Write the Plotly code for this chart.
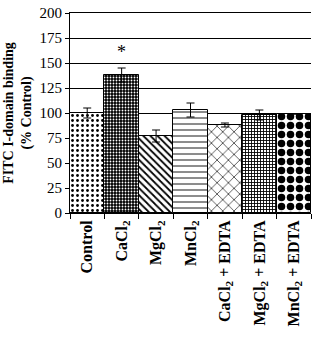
import plotly.graph_objects as go

categories = ["Control", "CaCl<sub>2</sub>", "MgCl<sub>2</sub>", "MnCl<sub>2</sub>",
              "CaCl<sub>2</sub> + EDTA", "MgCl<sub>2</sub> + EDTA", "MnCl<sub>2</sub> + EDTA"]
values = [100, 138, 77, 103, 88, 98, 99]
errors = [5, 7, 6, 7, 2, 5, 0]
y_ticks = [0, 25, 50, 75, 100, 125, 150, 175, 200]

shapes = [".", ".", "\\", "-", "x", "+", "."]
bgcols = ["white", "black", "white", "white", "white", "white", "white"]
fgcols = ["black", "white", "black", "black", "black", "black", "black"]
sizes = [5, 3, 5, 6, 8, 3, 9]
solid = [0.25, 0.3, 0.35, 0.15, 0.15, 0.5, 0.55]

fig = go.Figure()
fig.add_trace(go.Bar(
    x=categories, y=values,
    error_y=dict(type="data", array=errors, color="black", thickness=1, width=4),
    marker=dict(
        color="white",
        line=dict(color="black", width=1),
        pattern=dict(shape=shapes, bgcolor=bgcols, fgcolor=fgcols, size=sizes,
                     solidity=solid, fillmode="replace"),
    ),
    width=1.0,
))
fig.add_annotation(x=categories[1], y=values[1] + errors[1] + 4, text="*", showarrow=False,
                   font=dict(size=18, color="black", family="Liberation Serif"), yanchor="bottom")

fig.update_layout(
    width=321, height=337,
    margin=dict(l=70, r=10, t=13, b=124),
    plot_bgcolor="white", paper_bgcolor="white",
    bargap=0, showlegend=False,
    font=dict(family="Liberation Serif", color="black"),
)
fig.update_xaxes(
    automargin=False, mirror=True,
    tickangle=-90, showline=True, linecolor="black", linewidth=1,
    ticks="outside", tickson="boundaries", ticklen=5, tickcolor="black",
    tickfont=dict(size=16, family="Liberation Serif", color="black", weight="bold"),
)
fig.update_yaxes(
    automargin=False,
    range=[0, 200], tickvals=y_ticks, showline=True, linecolor="black", linewidth=1,
    ticks="outside", ticklen=4, tickcolor="black",
    showgrid=True, gridcolor="black", gridwidth=1,
    tickfont=dict(size=15, family="Liberation Serif", color="black"),
    title=dict(text="<b>FITC I-domain binding<br>(% Control)</b>",
               font=dict(size=14, family="Liberation Serif", color="black"), standoff=4),
)
fig.write_html("out.html", config={"displayModeBar": False},
               post_script="document.body.style.margin='0';")
